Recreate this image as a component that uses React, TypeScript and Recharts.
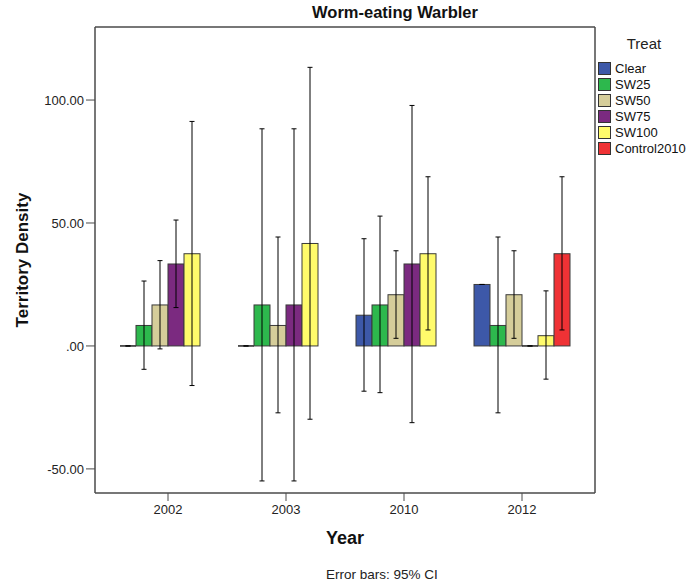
import React from "react";
import { Bar, BarChart, ErrorBar, ReferenceLine, XAxis, YAxis } from "recharts";

const FONT = '"Liberation Sans", Arial, sans-serif';

// Year categories
const years = ["2002", "2003", "2010", "2012"];

// mean territory density per treatment
const clear = [0, 0, 12.5, 25];
const sw25 = [8.33, 16.67, 16.67, 8.33];
const sw50 = [16.67, 8.33, 20.83, 20.83];
const sw75 = [33.33, 16.67, 33.33, 0];
const sw100 = [37.5, 41.67, 37.5, 4.17];
const control2010 = [null, null, null, 37.5];

// 95% CI bounds
const clearLo = [0, 0, -18.4, 25];
const clearHi = [0, 0, 43.6, 25];
const sw25Lo = [-9.5, -54.9, -19, -27.2];
const sw25Hi = [26.4, 88.3, 52.8, 44.3];
const sw50Lo = [-1.2, -27.2, 3.1, 3.1];
const sw50Hi = [34.7, 44.3, 38.7, 38.7];
const sw75Lo = [15.6, -54.9, -31.2, 0];
const sw75Hi = [51.2, 88.3, 97.8, 0];
const sw100Lo = [-16.1, -29.8, 6.5, -13.5];
const sw100Hi = [91.3, 113.3, 68.8, 22.4];
const controlLo = [null, null, null, 6.5];
const controlHi = [null, null, null, 68.8];

const yTicks = [-50, 0, 50, 100];
const yMin = -59.8;
const yMax = 129.7;

const series = [
  { key: "Clear", color: "#3d58a8", mean: clear, lo: clearLo, hi: clearHi },
  { key: "SW25", color: "#2db84d", mean: sw25, lo: sw25Lo, hi: sw25Hi },
  { key: "SW50", color: "#d5cd9a", mean: sw50, lo: sw50Lo, hi: sw50Hi },
  { key: "SW75", color: "#7b2a80", mean: sw75, lo: sw75Lo, hi: sw75Hi },
  { key: "SW100", color: "#fffb6b", mean: sw100, lo: sw100Lo, hi: sw100Hi },
  { key: "Control2010", color: "#ef3235", mean: control2010, lo: controlLo, hi: controlHi },
];

const chartData = years.map((year, i) => {
  const row: Record<string, any> = { year };
  series.forEach((s) => {
    const m = s.mean[i];
    row[s.key] = m;
    row[s.key + "Err"] =
      m == null ? null : [m - (s.lo[i] as number), (s.hi[i] as number) - m];
  });
  return row;
});

const fmtTick = (v: number) => {
  if (v === 0) return ".00";
  return v.toFixed(2);
};

const makeShape = (key: string) => (props: any) => {
  const { x, y, width, height, fill, payload } = props;
  if (payload == null || payload[key] == null) return <g />;
  if (!height || Math.abs(height) < 0.5) {
    return (
      <line x1={x} x2={x + width} y1={y} y2={y} stroke="#222" strokeWidth={1.5} />
    );
  }
  return (
    <rect
      x={x}
      y={y}
      width={width}
      height={height}
      fill={fill}
      stroke="#3a3a3a"
      strokeWidth={1}
    />
  );
};

const tickStyle = { fontSize: 13, fill: "#222", fontFamily: FONT };
const frame = { stroke: "#4a4a4a", strokeWidth: 1.5 };

export default function App() {
  return (
    <div
      style={{
        position: "absolute",
        left: 0,
        top: 0,
        width: 690,
        height: 587,
        background: "#fff",
        fontFamily: FONT,
      }}
    >
      <div
        style={{
          position: "absolute",
          left: 0,
          width: 790,
          top: 3,
          textAlign: "center",
          fontSize: 16.5,
          fontWeight: "bold",
          color: "#111",
        }}
      >
        Worm-eating Warbler
      </div>

      <BarChart
        width={690}
        height={587}
        data={chartData}
        margin={{ top: 27, right: 94, left: 0, bottom: 64 }}
        barSize={16}
        barGap={0}
      >
        <XAxis
          dataKey="year"
          padding={{ left: 14, right: 14 }}
          tick={tickStyle}
          tickSize={8}
          tickMargin={4}
          tickLine={{ stroke: "#4a4a4a" }}
          axisLine={frame}
          height={30}
          label={{
            value: "Year",
            position: "bottom",
            offset: 8,
            style: { fontSize: 18, fontWeight: "bold", fill: "#111", fontFamily: FONT },
          }}
        />
        <YAxis
          domain={[yMin, yMax]}
          ticks={yTicks}
          tickFormatter={fmtTick}
          tick={tickStyle}
          tickSize={9}
          tickMargin={2}
          tickLine={{ stroke: "#4a4a4a" }}
          axisLine={frame}
          width={95}
          allowDataOverflow
          label={{
            value: "Territory Density",
            angle: -90,
            position: "insideLeft",
            offset: 22,
            style: {
              fontSize: 17,
              fontWeight: "bold",
              fill: "#111",
              fontFamily: FONT,
              textAnchor: "middle",
            },
          }}
        />
        <YAxis
          yAxisId="right"
          orientation="right"
          domain={[yMin, yMax]}
          width={1}
          tick={false}
          tickLine={false}
          axisLine={frame}
        />
        <ReferenceLine y={yMax} stroke="#4a4a4a" strokeWidth={1.5} ifOverflow="visible" />
        {series.map((s) => (
          <Bar
            key={s.key}
            dataKey={s.key}
            fill={s.color}
            isAnimationActive={false}
            shape={makeShape(s.key)}
          >
            <ErrorBar
              dataKey={s.key + "Err"}
              width={2.5}
              stroke="#000"
              strokeWidth={1}
              direction="y"
            />
          </Bar>
        ))}
      </BarChart>

      <div style={{ position: "absolute", left: 598, top: 35, width: 92 }}>
        <div
          style={{
            width: 92,
            textAlign: "center",
            fontSize: 15,
            color: "#222",
            marginBottom: 8,
            lineHeight: "17px",
          }}
        >
          Treat
        </div>
        {series.map((s) => (
          <div
            key={s.key}
            style={{ display: "flex", alignItems: "center", height: 16 }}
          >
            <div
              style={{
                width: 11,
                height: 11,
                background: s.color,
                border: "1px solid #333",
                marginRight: 4,
              }}
            />
            <span style={{ fontSize: 13, color: "#111", whiteSpace: "nowrap" }}>
              {s.key}
            </span>
          </div>
        ))}
      </div>

      <div
        style={{
          position: "absolute",
          left: 326,
          top: 567,
          fontSize: 13.5,
          color: "#222",
          whiteSpace: "nowrap",
        }}
      >
        Error bars: 95% CI
      </div>
    </div>
  );
}
